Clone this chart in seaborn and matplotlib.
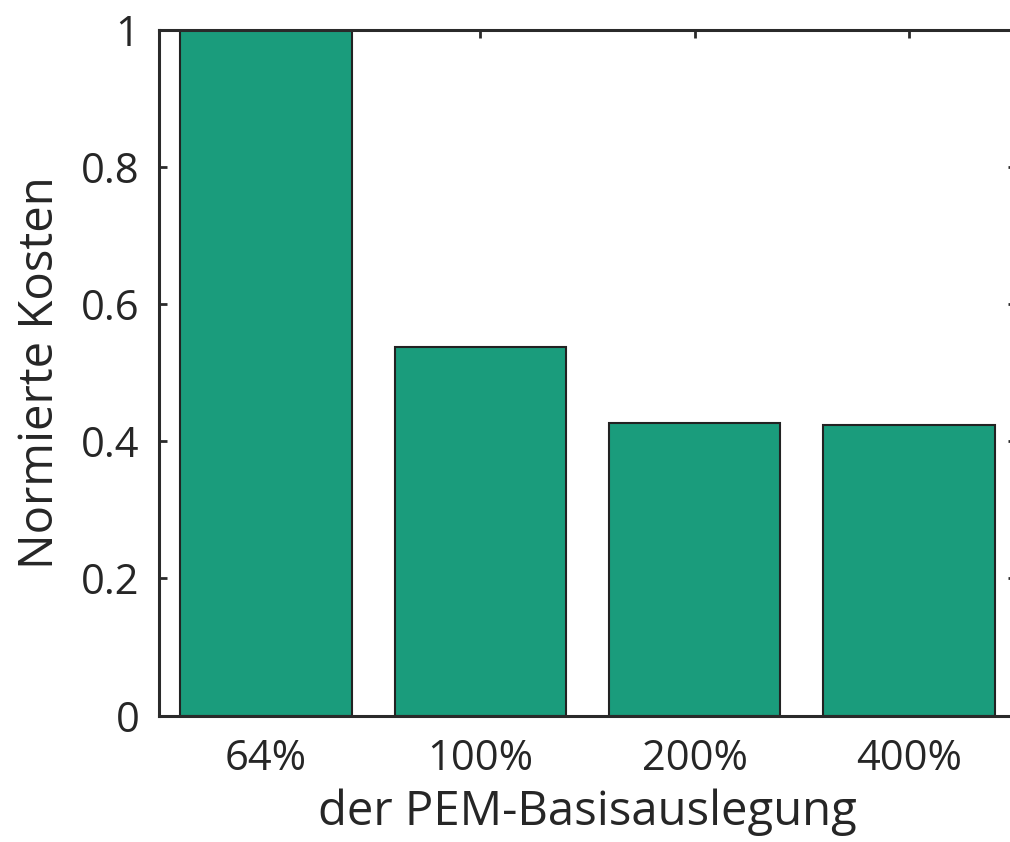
import matplotlib
matplotlib.use("Agg")
import matplotlib.pyplot as plt
import seaborn as sns
import pandas as pd

categories = ["64%", "100%", "200%", "400%"]
values = [1.0, 0.537, 0.426, 0.424]
yticks = [0, 0.2, 0.4, 0.6, 0.8, 1]
ytick_labels = ["0", "0.2", "0.4", "0.6", "0.8", "1"]

sns.set_theme(style="white")
plt.rcParams['font.family'] = ['Open Sans', 'DejaVu Sans']
txt = "#262626"

df = pd.DataFrame({"cat": categories, "val": values})
fig = plt.figure(figsize=(10.1, 8.42), dpi=100)
ax = fig.add_axes([0.1574, 0.1502, 0.8486, 0.8142])
sns.barplot(data=df, x="cat", y="val", ax=ax, color="#1a9c7c", saturation=1,
            width=0.8, edgecolor="#222222", linewidth=1.5)
ax.set_xlim(-0.5, 3.5)
ax.set_ylim(0, 1)
ax.set_yticks(yticks)
ax.set_yticklabels(ytick_labels)
for s in ax.spines.values():
    s.set_visible(True)
    s.set_color("#2a2a2a")
    s.set_linewidth(2.2)
ax.tick_params(direction="in", length=6, width=2, color="#2a2a2a",
               top=True, right=True, bottom=True, left=True,
               labelsize=30, labelcolor=txt)
ax.tick_params(axis="x", pad=16)
ax.tick_params(axis="y", pad=14)
ax.set_xlabel("der PEM-Basisauslegung", fontsize=34, color=txt, labelpad=6)
ax.set_ylabel("Normierte Kosten", fontsize=34, color=txt, labelpad=12)
fig.savefig("out.png", dpi=100)
